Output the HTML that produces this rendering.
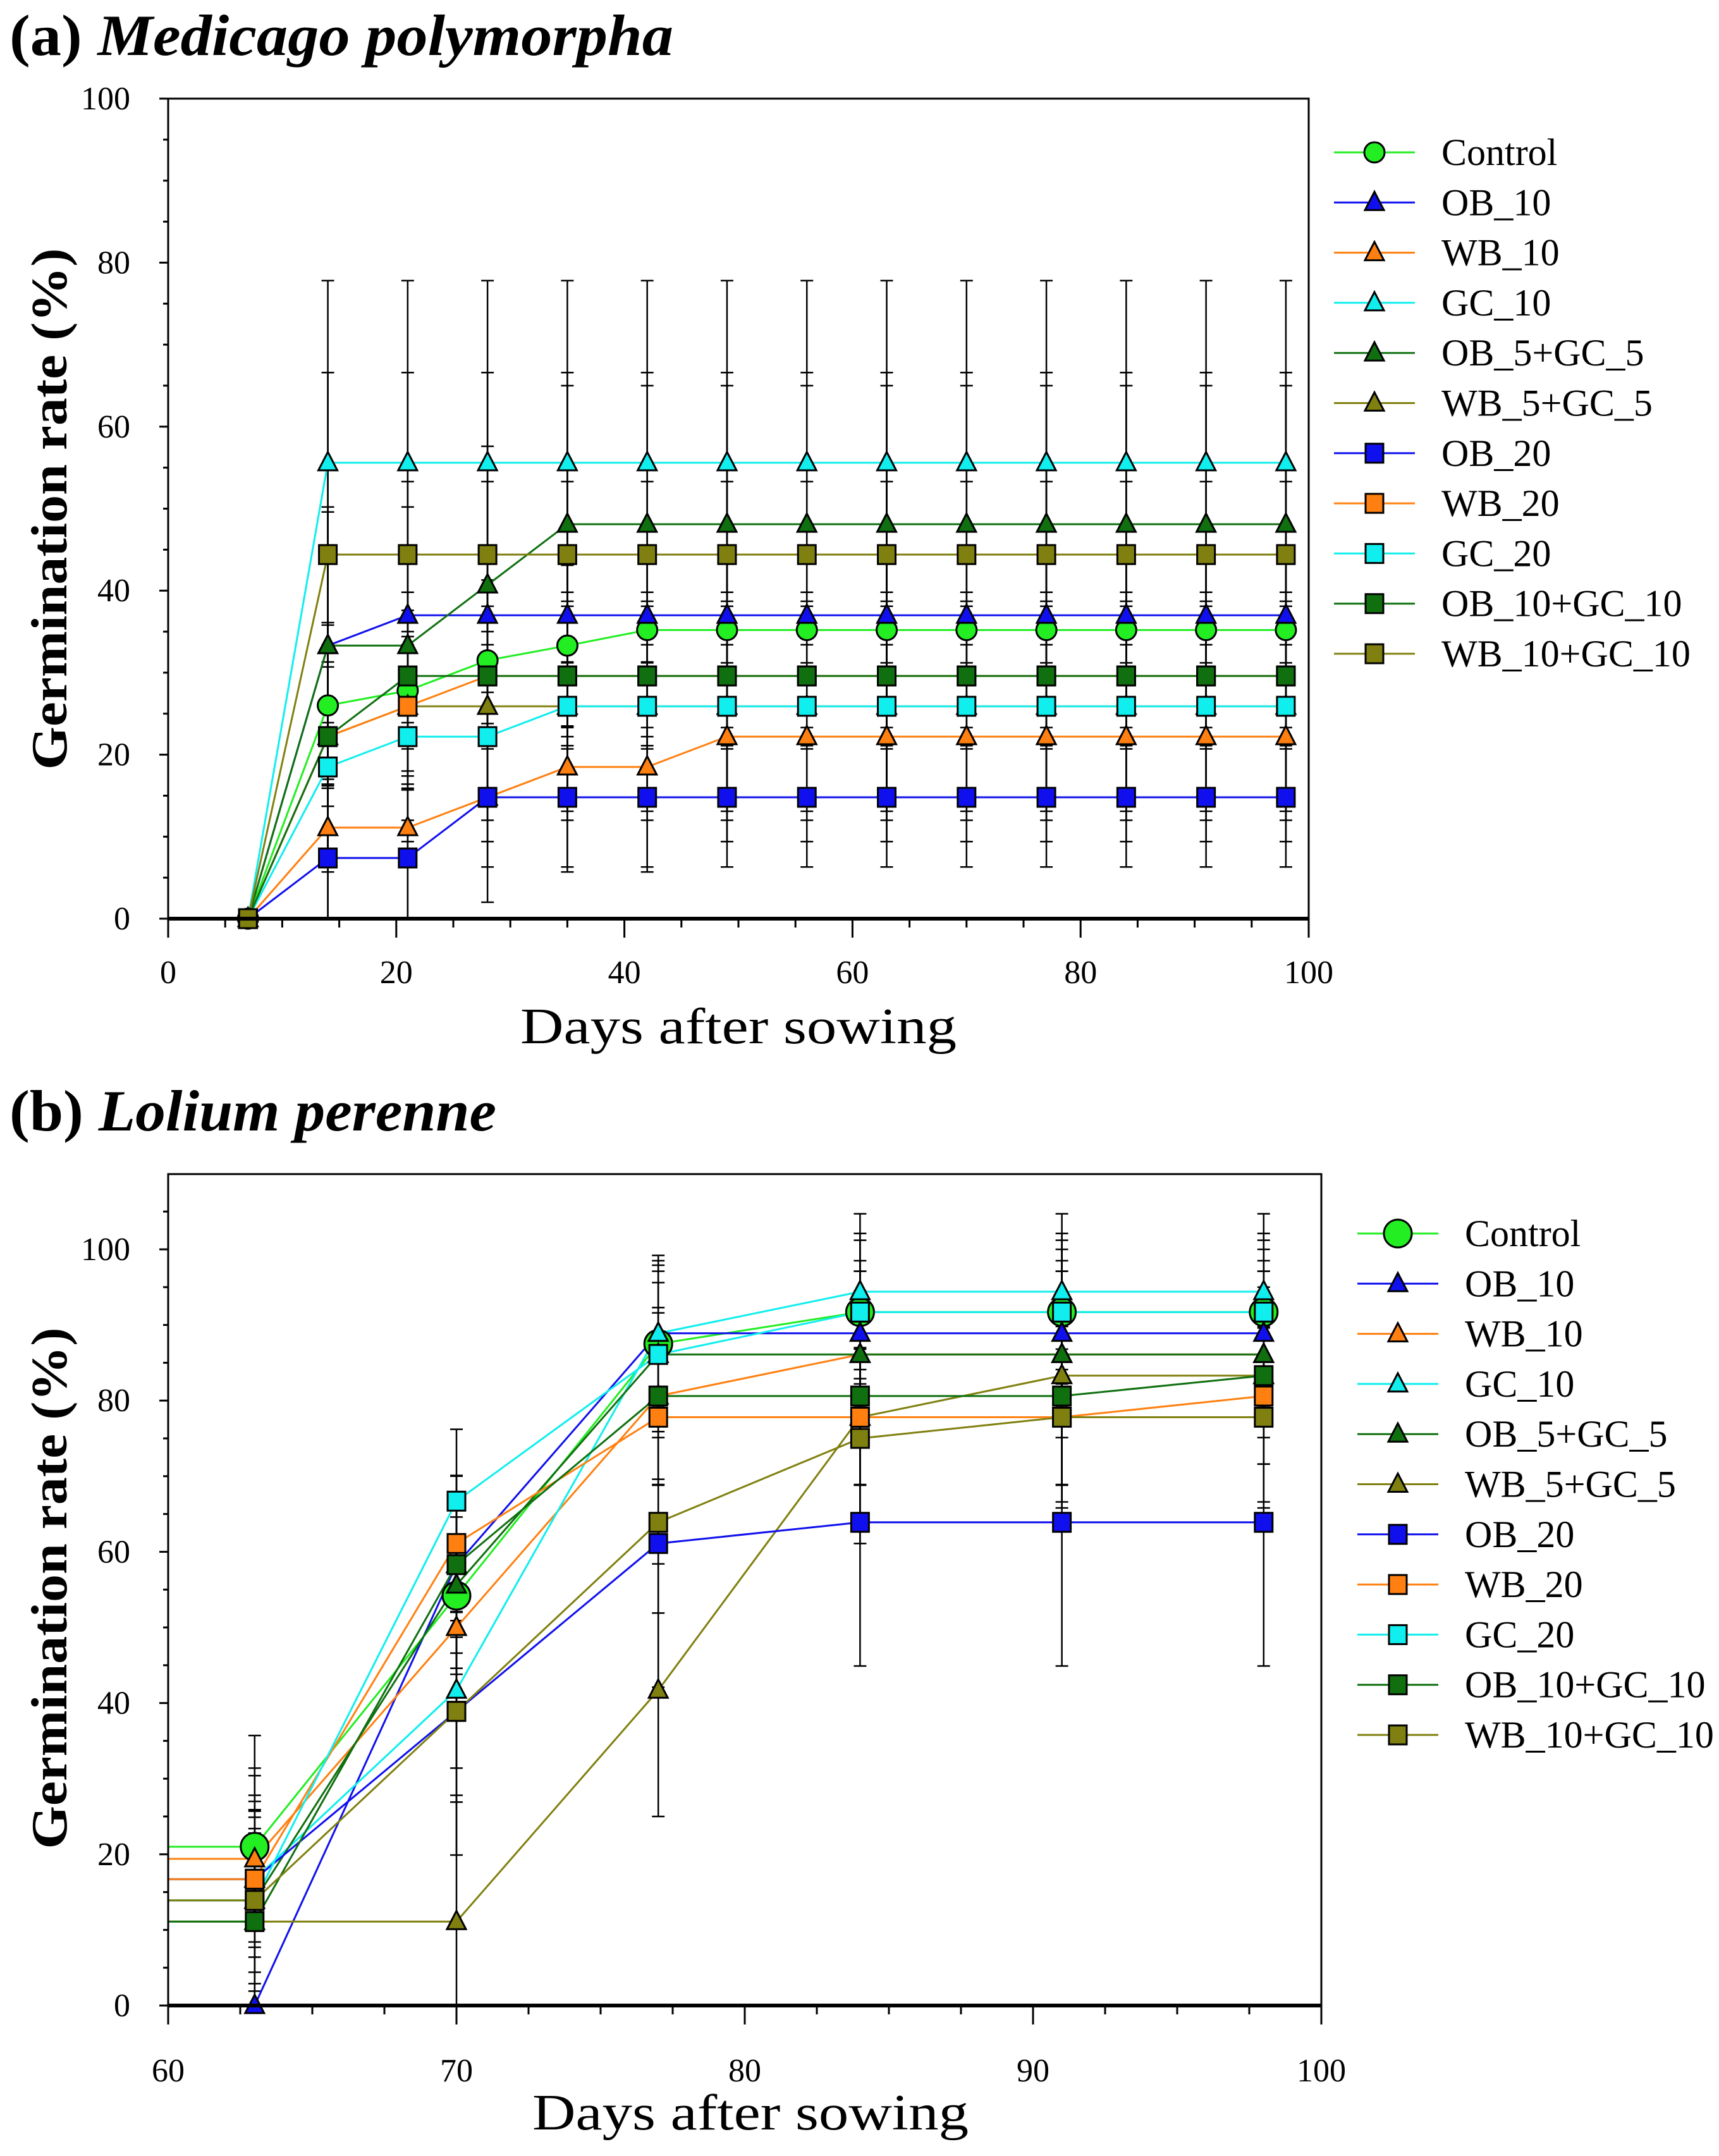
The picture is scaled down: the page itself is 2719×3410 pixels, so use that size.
<!DOCTYPE html>
<html><head><meta charset="utf-8"><style>
body{margin:0;background:#fff}
svg{display:block;font-family:"Liberation Serif",serif}
</style></head><body>
<svg id="chart" width="2719" height="3410" viewBox="0 0 2719 3410" xmlns="http://www.w3.org/2000/svg">
<rect width="2719" height="3410" fill="#fff"/>
<text x="15" y="87" font-size="92" font-weight="bold" textLength="1050" lengthAdjust="spacingAndGlyphs">(a) <tspan font-style="italic">Medicago polymorpha</tspan></text>
<text x="15" y="1788" font-size="92" font-weight="bold" textLength="770" lengthAdjust="spacingAndGlyphs">(b) <tspan font-style="italic">Lolium perenne</tspan></text>
<g id="pa"></g>
<g id="pb"></g>
</svg>
<script>
const seriesNames=["Control","OB_10","WB_10","GC_10","OB_5+GC_5","WB_5+GC_5","OB_20","WB_20","GC_20","OB_10+GC_10","WB_10+GC_10"];
const seriesColors=["#22ee22","#1010ee","#ff8010","#10eeee","#107010","#808010","#1010ee","#ff8010","#10eeee","#107010","#808010"];
const seriesMarkers=["circle","tri","tri","tri","tri","tri","sq","sq","sq","sq","sq"];

const daysA=[7,14,21,28,35,42,49,56,63,70,77,84,91,98];
const valsA=[
[0,26,27.8,31.5,33.3,35.2,35.2,35.2,35.2,35.2,35.2,35.2,35.2,35.2],
[0,33.3,37,37,37,37,37,37,37,37,37,37,37,37],
[0,11.1,11.1,14.8,18.5,18.5,22.2,22.2,22.2,22.2,22.2,22.2,22.2,22.2],
[0,55.6,55.6,55.6,55.6,55.6,55.6,55.6,55.6,55.6,55.6,55.6,55.6,55.6],
[0,33.3,33.3,40.7,48.1,48.1,48.1,48.1,48.1,48.1,48.1,48.1,48.1,48.1],
[0,22.2,25.9,25.9,25.9,25.9,25.9,25.9,25.9,25.9,25.9,25.9,25.9,25.9],
[0,7.4,7.4,14.8,14.8,14.8,14.8,14.8,14.8,14.8,14.8,14.8,14.8,14.8],
[0,22.2,25.9,29.6,29.6,29.6,29.6,29.6,29.6,29.6,29.6,29.6,29.6,29.6],
[0,18.5,22.2,22.2,25.9,25.9,25.9,25.9,25.9,25.9,25.9,25.9,25.9,25.9],
[0,22.2,29.6,29.6,29.6,29.6,29.6,29.6,29.6,29.6,29.6,29.6,29.6,29.6],
[0,44.4,44.4,44.4,44.4,44.4,44.4,44.4,44.4,44.4,44.4,44.4,44.4,44.4]];
const errA=[9.8,16.3,12.8,22.2,16.9,13.9,8.5,8.5,12.8,13.9,22.2];

const daysB=[63,70,77,84,91,98];
const valsB=[
[21,54.2,87.5,91.7,91.7,91.7],
[0,58.3,88.9,88.9,88.9,88.9],
[19.4,50,80.6,86.1,86.1,86.1],
[16.7,41.7,88.9,94.4,94.4,94.4],
[13.9,55.6,86.1,86.1,86.1,86.1],
[11.1,11.1,41.7,77.8,83.3,83.3],
[16.7,38.9,61.1,63.9,63.9,63.9],
[16.7,61.1,77.8,77.8,77.8,80.6],
[13.9,66.7,86.1,91.7,91.7,91.7],
[11.1,58.3,80.6,80.6,80.6,83.3],
[13.9,38.9,63.9,75,77.8,77.8]];
const errB=[10.4,9.6,11,10.3,11,16.7,19,9,9.5,11.7,12];

const xTicksA=[0,20,40,60,80,100], yTicksA=[0,20,40,60,80,100];
const xTicksB=[60,70,80,90,100], yTicksB=[0,20,40,60,80,100];

const NS="http://www.w3.org/2000/svg";
function mk(parent,tag,attrs,text){const e=document.createElementNS(NS,tag);for(const k in attrs)e.setAttribute(k,attrs[k]);if(text!==undefined)e.textContent=text;parent.appendChild(e);return e;}

function drawPanel(g,cfg){
  const X=v=>cfg.L+(v-cfg.x0)/(cfg.x1-cfg.x0)*(cfg.R-cfg.L);
  const Y=v=>cfg.B-(v-cfg.y0)/(cfg.y1-cfg.y0)*(cfg.B-cfg.T);
  for(let v=cfg.x0;v<=cfg.x1+1e-6;v+=cfg.xMinor){
    const major=cfg.xTicks.some(t=>Math.abs(t-v)<1e-6);
    const t=mk(g,"line",{x1:X(v),x2:X(v),y1:cfg.B,y2:cfg.B+(major?30:14),stroke:"#000","stroke-width":3});
    
    
  }
  cfg.xTicks.forEach(v=>{const t=mk(g,"text",{x:X(v),y:cfg.B+cfg.xlOff,"font-size":52,"text-anchor":"middle"},String(v));
    
    });
  for(let v=cfg.y0;v<=cfg.yTop+1e-6;v+=cfg.yMinor){
    const major=cfg.yTicks.some(t=>Math.abs(t-v)<1e-6);
    const t=mk(g,"line",{x1:cfg.L,x2:cfg.L-(major?14:8),y1:Y(v),y2:Y(v),stroke:"#000","stroke-width":3});
    
    
  }
  cfg.yTicks.forEach(v=>{const t=mk(g,"text",{x:cfg.L-60,y:Y(v)+17,"font-size":52,"text-anchor":"end"},String(v));
    
    });
  const order=[...seriesNames.keys()];
  order.forEach(i=>{
    const sg=mk(g,"g",{});
    
    
    cfg.days.forEach((d,j)=>{
      const v=cfg.vals[i][j], e=cfg.err[i];
      if(v===0 && j===0)return;
      const lo=Math.max(cfg.y0,v-e), hi=Math.min(cfg.yTop+5,v+e);
      const eb=mk(sg,"path",{d:`M${X(d)},${Y(lo)}V${Y(hi)}M${X(d)-10},${Y(lo)}h20M${X(d)-10},${Y(hi)}h20`,stroke:"#000","stroke-width":2.5,fill:"none"});
      
      
    });
  });
  order.forEach(i=>{
    let pts=cfg.days.map((d,j)=>X(d)+","+Y(cfg.vals[i][j]));
    if(cfg.leadIn) pts.unshift(X(cfg.x0)+","+Y(cfg.vals[i][0]));
    const ln=mk(g,"polyline",{points:pts.join(" "),fill:"none",stroke:seriesColors[i],"stroke-width":3});
    
    
  });
  order.forEach(i=>{
    cfg.days.forEach((d,j)=>{
      const m=marker(g,seriesMarkers[i],X(d),Y(cfg.vals[i][j]),seriesColors[i],cfg.circR&&i===0?cfg.circR:16);
      
      
    });
  });
  const fr=mk(g,"rect",{x:cfg.L,y:cfg.T,width:cfg.R-cfg.L,height:cfg.B-cfg.T,fill:"none",stroke:"#000","stroke-width":3});
  
  
  const ba=mk(g,"line",{x1:cfg.L,x2:cfg.R,y1:cfg.B,y2:cfg.B,stroke:"#000","stroke-width":6});
  
  
  const xt=mk(g,"text",{x:cfg.xtX,y:cfg.xtY,"font-size":80,"text-anchor":"middle",textLength:690,lengthAdjust:"spacingAndGlyphs"},"Days after sowing");
  
  
  const yt=mk(g,"text",{x:0,y:0,"font-size":80,"font-weight":"bold","text-anchor":"middle",transform:`translate(105,${cfg.ytY}) rotate(-90)`,textLength:825,lengthAdjust:"spacingAndGlyphs"},"Germination rate (%)");
  
  
  seriesNames.forEach((n,i)=>{
    const y=cfg.legY+i*79.3;
    const lg=mk(g,"g",{});
    
    
    mk(lg,"line",{x1:cfg.legX,x2:cfg.legX+128,y1:y,y2:y,stroke:seriesColors[i],"stroke-width":3});
    marker(lg,seriesMarkers[i],cfg.legX+64,y,seriesColors[i],cfg.circR&&i===0?cfg.circR:16);
    mk(lg,"text",{x:cfg.legX+170,y:y+20,"font-size":60},n);
  });
}
function marker(g,type,x,y,c,r){
  if(type==="circle")return mk(g,"circle",{cx:x,cy:y,r:r,fill:c,stroke:"#000","stroke-width":3});
  if(type==="tri")return mk(g,"path",{d:`M${x},${y-17}L${x+15},${y+12}L${x-15},${y+12}Z`,fill:c,stroke:"#000","stroke-width":3});
  return mk(g,"rect",{x:x-14,y:y-15,width:28,height:30,fill:c,stroke:"#000","stroke-width":3});
}
drawPanel(document.getElementById("pa"),{L:266,R:2070,T:156,B:1453,x0:0,x1:100,y0:0,y1:100,yTop:100,xMinor:5,yMinor:5,
  xTicks:xTicksA,yTicks:yTicksA,days:daysA,vals:valsA,err:errA,xtX:1168,xtY:1650,ytY:805,legX:2110,legY:241,xlOff:102});
drawPanel(document.getElementById("pb"),{L:266,R:2090,T:1857,B:3172,x0:60,x1:100,y0:0,y1:100*(3172-1857)/(3172-1976),yTop:105,xMinor:2.5,yMinor:5,
  xTicks:xTicksB,yTicks:yTicksB,days:daysB,vals:valsB,err:errB,xtX:1187,xtY:3368,ytY:2512,legX:2147,legY:1951,leadIn:true,circR:22,xlOff:120});
</script>
</body></html>
